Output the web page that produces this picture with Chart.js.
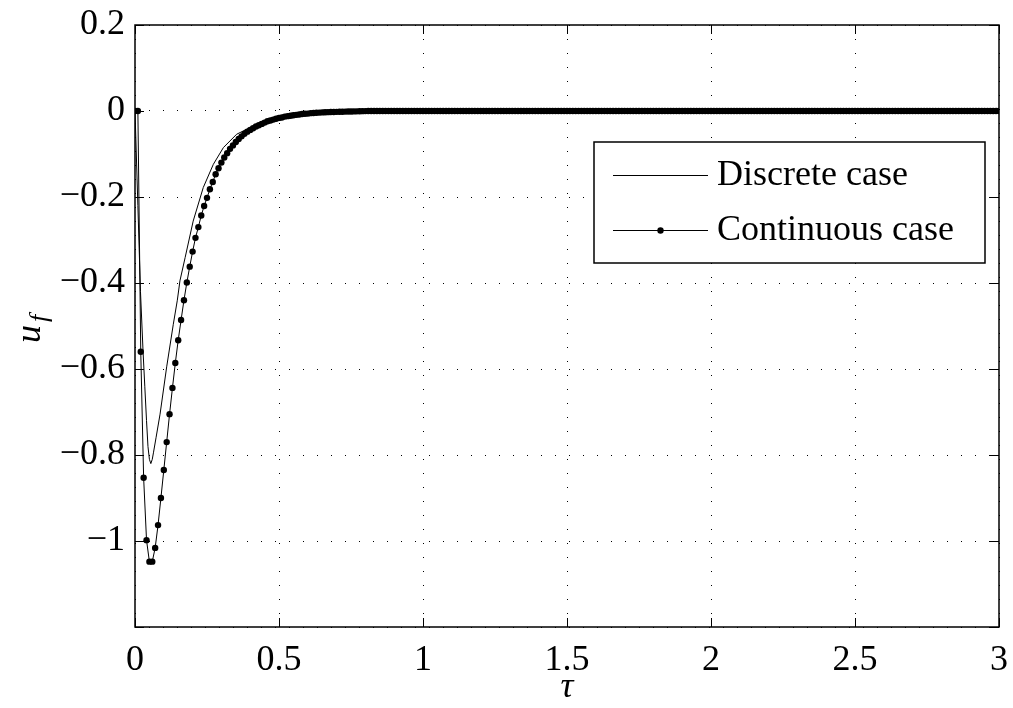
<!DOCTYPE html>
<html>
<head>
<meta charset="utf-8">
<script src="https://cdn.jsdelivr.net/npm/chart.js@4.4.0/dist/chart.umd.min.js"></script>
<style>
    html, body { margin: 0; padding: 0; background: #fff; }
</style>
</head>
<body>
<canvas id="myChart" width="1013" height="708"></canvas>
<script>
const xTicks = [0, 0.5, 1, 1.5, 2, 2.5, 3];
const yTicks = [0.2, 0, -0.2, -0.4, -0.6, -0.8, -1, -1.2];

// continuous case: one sample every dt in tau, starting at tau = 0 (301 samples up to 3)
const dt = 0.01;
const continuousValues = [
    0, 0, -0.560, -0.853, -0.998, -1.048, -1.048, -1.016, -0.963, -0.900,
    -0.835, -0.770, -0.705, -0.644, -0.586, -0.533, -0.486, -0.440, -0.399, -0.362,
    -0.327, -0.295, -0.270, -0.243, -0.221, -0.202, -0.182, -0.165, -0.147, -0.133,
    -0.120, -0.108, -0.098, -0.088, -0.080, -0.072, -0.065, -0.059, -0.053, -0.048,
    -0.044, -0.040, -0.036, -0.033, -0.030, -0.027, -0.024, -0.022, -0.020, -0.018,
    -0.016, -0.015, -0.013, -0.012, -0.011, -0.010, -0.009, -0.008, -0.007, -0.0065,
    -0.006, -0.005, -0.0045, -0.004, -0.0037, -0.0033, -0.003, -0.0027, -0.0024, -0.0022,
    -0.002, -0.0018, -0.0016, -0.0014, -0.0012, -0.001, -0.0009, -0.0008, -0.0006, -0.0004,
    -0.0002, 0, 0, 0, 0,  0, 0, 0, 0, 0,  0, 0, 0, 0, 0,  0, 0, 0, 0, 0,   // 80-99
    0, 0, 0, 0, 0,  0, 0, 0, 0, 0,  0, 0, 0, 0, 0,  0, 0, 0, 0, 0,         // 100-119
    0, 0, 0, 0, 0,  0, 0, 0, 0, 0,  0, 0, 0, 0, 0,  0, 0, 0, 0, 0,         // 120-139
    0, 0, 0, 0, 0,  0, 0, 0, 0, 0,  0, 0, 0, 0, 0,  0, 0, 0, 0, 0,         // 140-159
    0, 0, 0, 0, 0,  0, 0, 0, 0, 0,  0, 0, 0, 0, 0,  0, 0, 0, 0, 0,         // 160-179
    0, 0, 0, 0, 0,  0, 0, 0, 0, 0,  0, 0, 0, 0, 0,  0, 0, 0, 0, 0,         // 180-199
    0, 0, 0, 0, 0,  0, 0, 0, 0, 0,  0, 0, 0, 0, 0,  0, 0, 0, 0, 0,         // 200-219
    0, 0, 0, 0, 0,  0, 0, 0, 0, 0,  0, 0, 0, 0, 0,  0, 0, 0, 0, 0,         // 220-239
    0, 0, 0, 0, 0,  0, 0, 0, 0, 0,  0, 0, 0, 0, 0,  0, 0, 0, 0, 0,         // 240-259
    0, 0, 0, 0, 0,  0, 0, 0, 0, 0,  0, 0, 0, 0, 0,  0, 0, 0, 0, 0,         // 260-279
    0, 0, 0, 0, 0,  0, 0, 0, 0, 0,  0, 0, 0, 0, 0,  0, 0, 0, 0, 0,         // 280-299
    0                                                                       // 300
];

// discrete case
const discreteTau = [0, 0.010, 0.019, 0.028, 0.034, 0.040, 0.045, 0.050, 0.055, 0.060,
    0.064, 0.073, 0.087, 0.110, 0.133, 0.147, 0.156, 0.174, 0.202, 0.237,
    0.272, 0.307, 0.353, 0.411, 0.503, 0.600, 0.700, 0.800, 3.0];
const discreteValues = [0, -0.22, -0.42, -0.56, -0.64, -0.72, -0.78, -0.81, -0.82, -0.81,
    -0.795, -0.76, -0.705, -0.595, -0.496, -0.440, -0.395, -0.341, -0.256, -0.178,
    -0.124, -0.085, -0.054, -0.035, -0.0155, -0.006, -0.002, 0, 0];

const serif = "'Liberation Serif', 'Times New Roman', serif";

function fmtTick(v) {
    const r = Math.round(v * 10) / 10;
    if (r === 0) return '0';
    return (r < 0 ? '\u2212' : '') + Math.abs(r);
}

// drop the extra room chart.js keeps for overhanging tick labels
function noLabelPadding(s) {
    s.paddingLeft = 0;
    s.paddingRight = 0;
    s.paddingTop = 0;
    s.paddingBottom = 0;
}

// frame, inward ticks, legend and axis titles (MATLAB look)
const matlabFrame = {
    id: 'matlabFrame',
    afterDraw(chart) {
        const ctx = chart.ctx;
        const a = chart.chartArea;
        const xs = chart.scales.x, ys = chart.scales.y;
        const tl = 9;
        ctx.save();
        ctx.strokeStyle = '#000';
        ctx.lineWidth = 1.5;
        ctx.strokeRect(a.left, a.top, a.right - a.left, a.bottom - a.top);
        ctx.lineWidth = 1;
        ctx.beginPath();
        xTicks.forEach(v => {
            const px = Math.round(xs.getPixelForValue(v)) + 0.5;
            ctx.moveTo(px, a.bottom); ctx.lineTo(px, a.bottom - tl);
            ctx.moveTo(px, a.top); ctx.lineTo(px, a.top + tl);
        });
        yTicks.forEach(v => {
            const py = Math.round(ys.getPixelForValue(v)) + 0.5;
            ctx.moveTo(a.left, py); ctx.lineTo(a.left + tl, py);
            ctx.moveTo(a.right, py); ctx.lineTo(a.right - tl, py);
        });
        ctx.stroke();

        // legend
        const lx = 594, ly = 142, lw = 391, lh = 121;
        ctx.fillStyle = '#fff';
        ctx.fillRect(lx, ly, lw, lh);
        ctx.lineWidth = 1.5;
        ctx.strokeRect(lx, ly, lw, lh);
        ctx.lineWidth = 1;
        const rows = [175, 230];
        chart.data.datasets.forEach((ds, i) => {
            const y = rows[i] + 0.5;
            ctx.beginPath();
            ctx.moveTo(613, y); ctx.lineTo(708, y);
            ctx.stroke();
            if (ds.pointRadius > 0) {
                ctx.fillStyle = '#000';
                ctx.beginPath();
                ctx.arc(660.5, y, ds.pointRadius, 0, Math.PI * 2);
                ctx.fill();
            }
            ctx.fillStyle = '#000';
            ctx.font = '36px ' + serif;
            ctx.textAlign = 'left';
            ctx.textBaseline = 'middle';
            ctx.fillText(ds.label, 717, rows[i] + 1);
        });

        // axis titles
        ctx.fillStyle = '#000';
        ctx.textBaseline = 'alphabetic';
        ctx.textAlign = 'center';
        ctx.font = 'italic 36px ' + serif;
        ctx.fillText('\u03C4', 567, 697);

        ctx.translate(40, 343);
        ctx.rotate(-Math.PI / 2);
        ctx.textAlign = 'left';
        ctx.font = 'italic 36px ' + serif;
        ctx.fillText('u', 0, 0);
        const uw = ctx.measureText('u').width;
        ctx.font = 'italic 26px ' + serif;
        ctx.fillText('f', uw + 3, 7);
        ctx.restore();
    }
};

const ctx = document.getElementById('myChart').getContext('2d');
const myChart = new Chart(ctx, {
    type: 'line',
    data: {
        datasets: [{
            label: 'Discrete case',
            data: discreteTau.map((t, i) => ({ x: t, y: discreteValues[i] })),
            borderColor: '#000',
            borderWidth: 1,
            pointRadius: 0,
            tension: 0,
            fill: false
        }, {
            label: 'Continuous case',
            data: continuousValues.map((v, i) => ({ x: i * dt, y: v })),
            borderColor: '#000',
            borderWidth: 1,
            pointRadius: 3.2,
            pointBackgroundColor: '#000',
            pointBorderWidth: 0,
            tension: 0,
            fill: false
        }]
    },
    options: {
        responsive: false,
        animation: false,
        layout: { padding: { top: 25, right: 14, left: 0, bottom: 0 } },
        plugins: {
            legend: { display: false },
            tooltip: { enabled: false }
        },
        scales: {
            x: {
                type: 'linear',
                min: 0,
                max: 3,
                afterBuildTicks: s => { s.ticks = xTicks.map(v => ({ value: v })); },
                afterFit: s => { s.height = 81; noLabelPadding(s); },
                grid: { color: '#000', lineWidth: 1, drawTicks: false },
                border: { display: false, dash: [1, 13] },
                ticks: {
                    color: '#000',
                    font: { family: serif, size: 36 },
                    padding: 12,
                    maxRotation: 0,
                    autoSkip: false,
                    callback: v => fmtTick(v)
                }
            },
            y: {
                type: 'linear',
                min: -1.2,
                max: 0.2,
                afterBuildTicks: s => { s.ticks = yTicks.map(v => ({ value: v })); },
                afterFit: s => { s.width = 135; noLabelPadding(s); },
                grid: { color: '#000', lineWidth: 1, drawTicks: false },
                border: { display: false, dash: [1, 13] },
                ticks: {
                    color: '#000',
                    font: { family: serif, size: 36 },
                    padding: 10,
                    autoSkip: false,
                    callback: v => (Math.abs(v + 1.2) < 1e-9 ? '' : fmtTick(v))
                }
            }
        }
    },
    plugins: [matlabFrame]
});
</script>
</body>
</html>
